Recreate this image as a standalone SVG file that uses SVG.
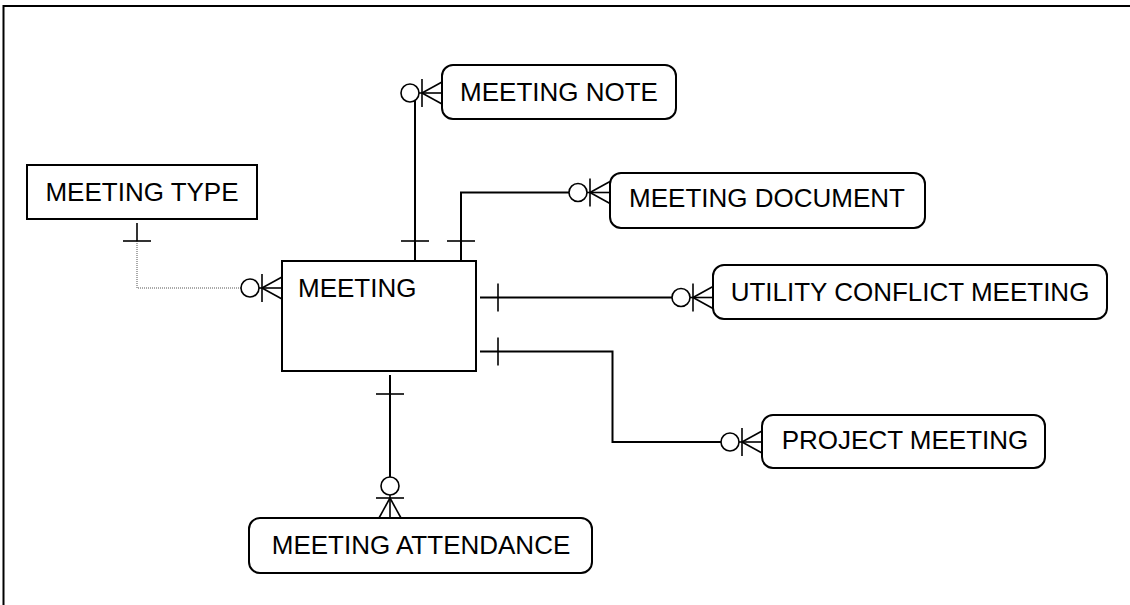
<svg xmlns="http://www.w3.org/2000/svg" xmlns:xlink="http://www.w3.org/1999/xlink" width="1130" height="605" viewBox="0 0 1130 605">
<style>
.ent{fill:#fff;stroke:#000;stroke-width:2}
.lbl{font-family:"Liberation Sans",Arial,sans-serif;font-size:26px;fill:#000}
.mid{text-anchor:middle}
.ln{fill:none;stroke:#000;stroke-width:2}
.dot{fill:none;stroke:#555;stroke-width:1;stroke-dasharray:1 1}
.mk{fill:none;stroke:#000;stroke-width:1.6}
.cir{fill:#fff;stroke:#000;stroke-width:1.6}
</style>
<defs>
<g id="zm">
<line class="mk" x1="-23" y1="0" x2="0" y2="0"/>
<line class="mk" x1="-20" y1="0" x2="0" y2="-11"/>
<line class="mk" x1="-20" y1="0" x2="0" y2="11"/>
<line class="mk" x1="-20" y1="-14" x2="-20" y2="14"/>
<circle class="cir" cx="-32" cy="0" r="9"/>
</g>
</defs>
<rect x="3.5" y="6" width="1200" height="700" fill="none" stroke="#000" stroke-width="2"/>
<g id="connectors">
<path class="ln" d="M415,261 V93"/>
<line class="mk" x1="401" y1="241" x2="429" y2="241"/>
<use xlink:href="#zm" transform="translate(442,93)"/>
<path class="ln" d="M461,261 V192.5 H569"/>
<line class="mk" x1="447" y1="241" x2="475" y2="241"/>
<use xlink:href="#zm" transform="translate(610,192.5)"/>
<path class="ln" d="M480,297.5 H672"/>
<line class="mk" x1="498" y1="283.5" x2="498" y2="311.5"/>
<use xlink:href="#zm" transform="translate(713,297.5)"/>
<path class="ln" d="M480,351.5 H612.5 V442 H721"/>
<line class="mk" x1="498" y1="337.5" x2="498" y2="365.5"/>
<use xlink:href="#zm" transform="translate(762,442)"/>
<path class="ln" d="M390,375 V477"/>
<line class="mk" x1="376" y1="394" x2="404" y2="394"/>
<use xlink:href="#zm" transform="translate(390,518) rotate(90)"/>
<path class="mk" d="M137,223 V241"/>
<path class="dot" d="M137,241 V288 H241"/>
<line class="mk" x1="123" y1="241" x2="151" y2="241"/>
<use xlink:href="#zm" transform="translate(282,288)"/>
</g>
<g id="meeting">
<rect class="ent" x="282" y="261" width="194" height="110"/>
<text class="lbl" x="298" y="297">MEETING</text>
</g>
<g id="meeting-type">
<rect class="ent" x="27" y="165" width="230" height="54"/>
<text class="lbl mid" x="142" y="200.5">MEETING TYPE</text>
</g>
<g id="meeting-note">
<rect class="ent" x="442" y="65" width="234" height="54" rx="11"/>
<text class="lbl mid" x="559" y="101">MEETING NOTE</text>
</g>
<g id="meeting-document">
<rect class="ent" x="610" y="173" width="315" height="55" rx="11"/>
<text class="lbl mid" x="767" y="207">MEETING DOCUMENT</text>
</g>
<g id="utility-conflict-meeting">
<rect class="ent" x="713" y="265" width="394" height="54" rx="11"/>
<text class="lbl mid" x="910" y="300.5">UTILITY CONFLICT MEETING</text>
</g>
<g id="project-meeting">
<rect class="ent" x="762" y="415" width="283" height="53" rx="11"/>
<text class="lbl mid" x="905" y="449">PROJECT MEETING</text>
</g>
<g id="meeting-attendance">
<rect class="ent" x="249" y="518" width="343" height="55" rx="11"/>
<text class="lbl mid" x="421" y="553.5">MEETING ATTENDANCE</text>
</g>
</svg>
